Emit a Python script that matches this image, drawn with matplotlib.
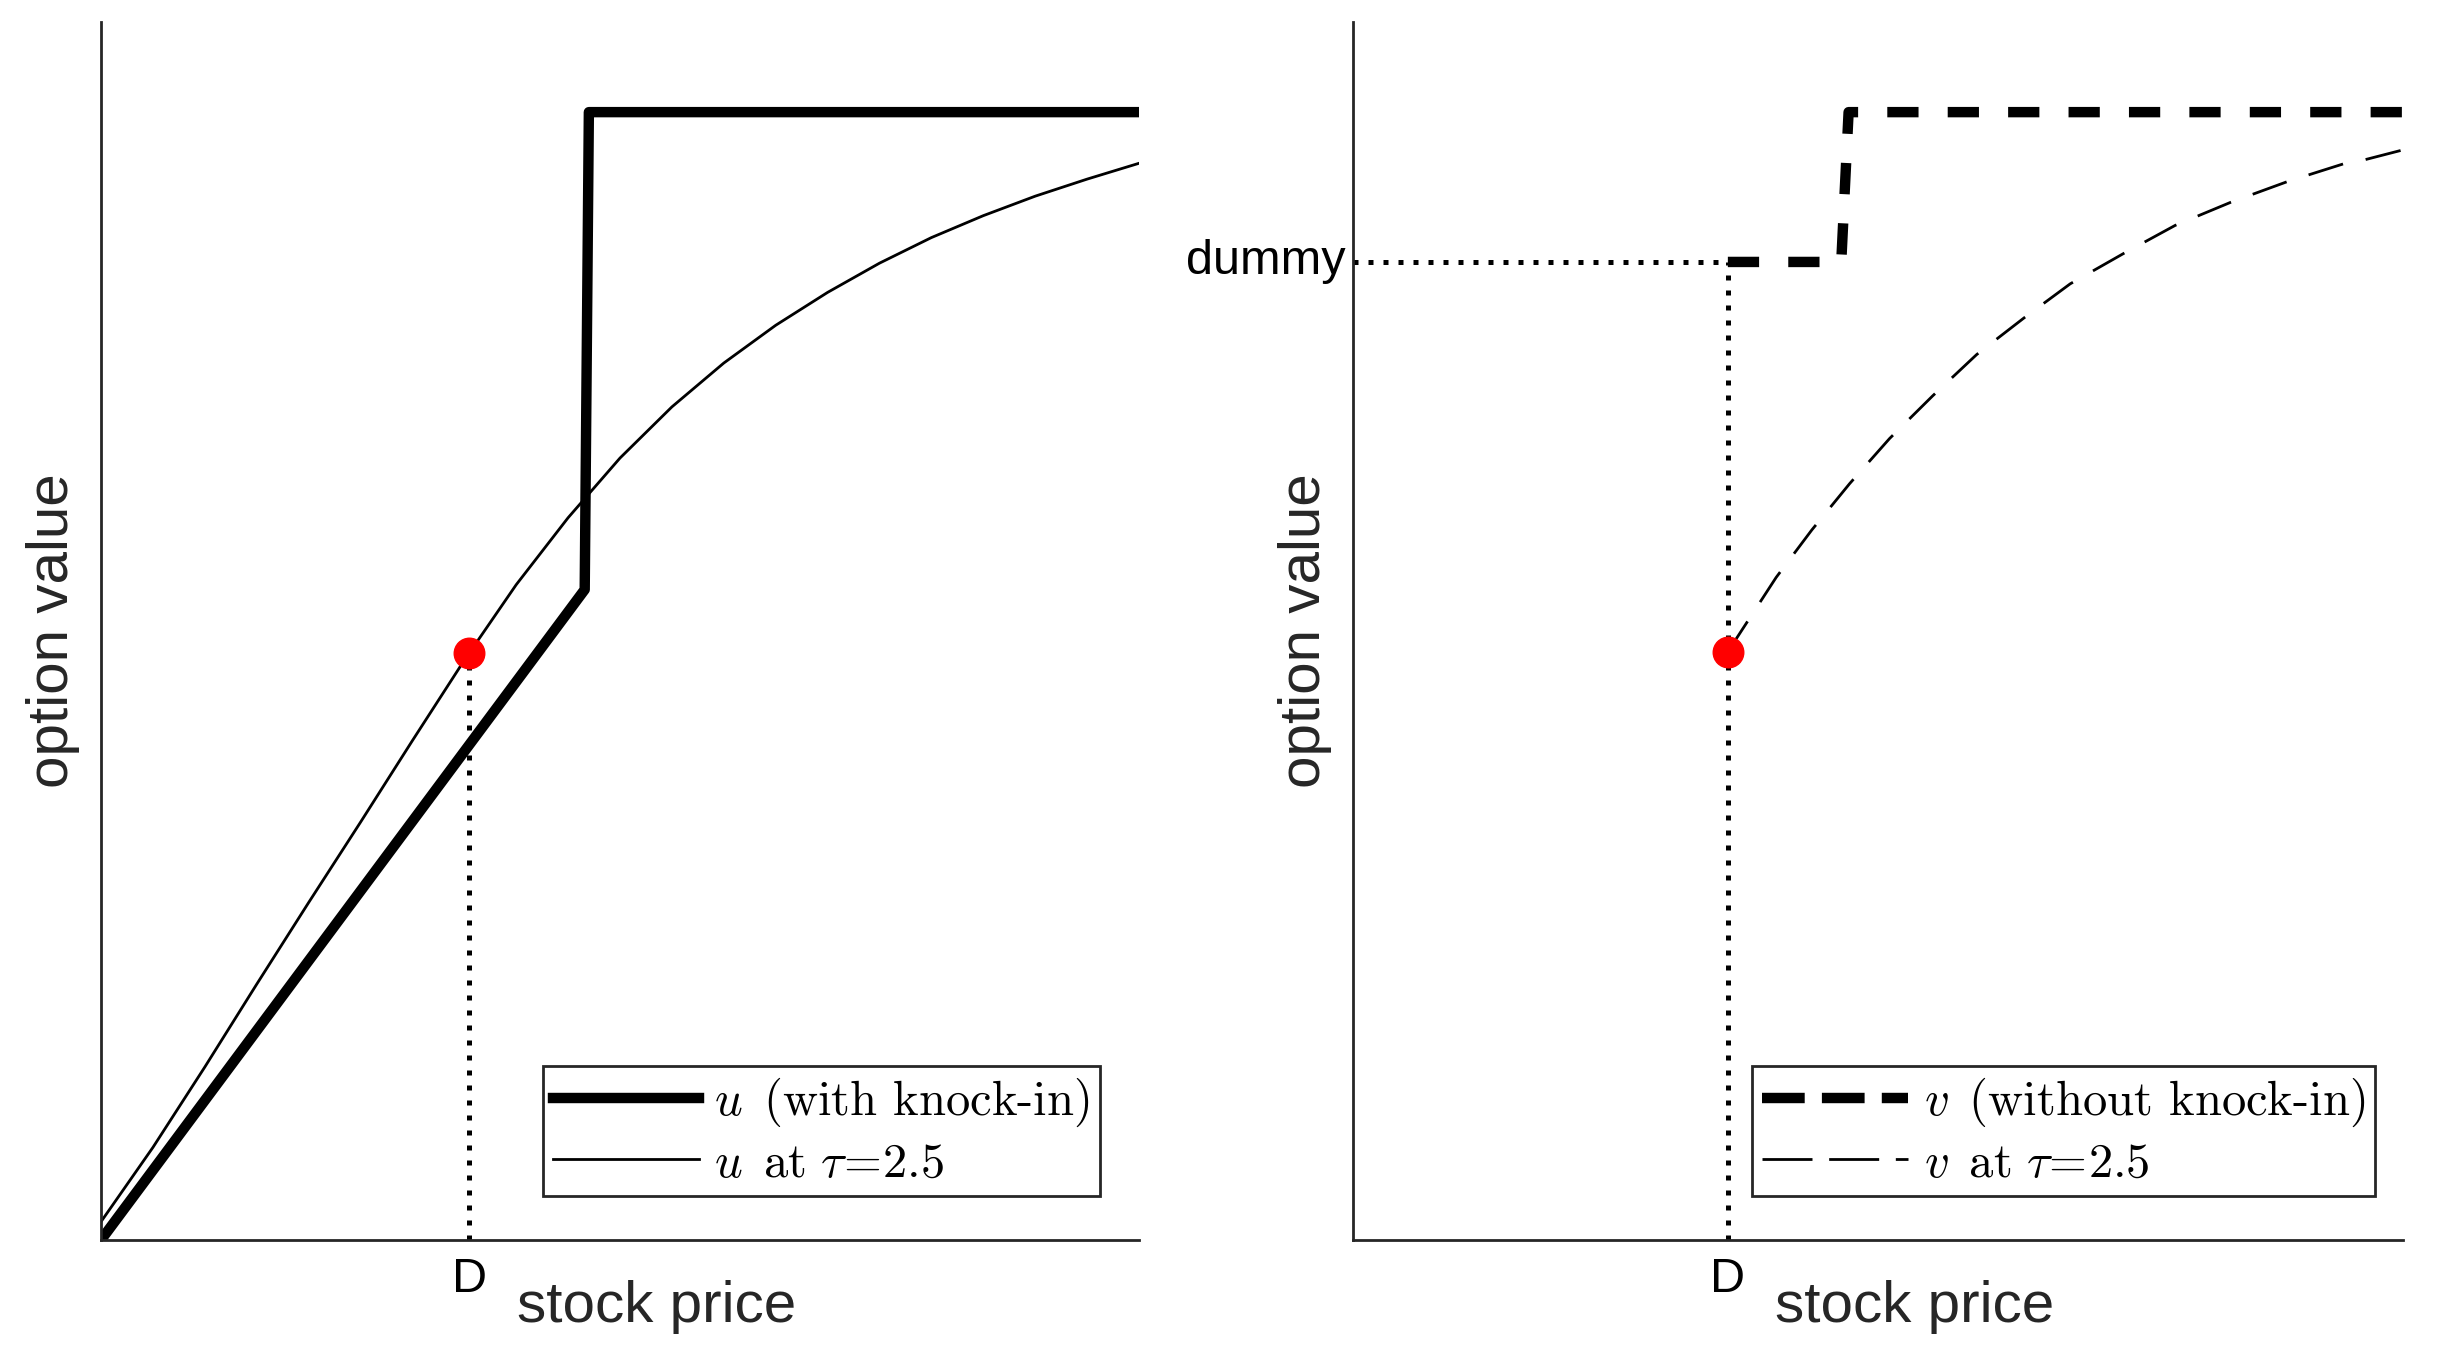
import matplotlib
matplotlib.use('Agg')
import matplotlib.pyplot as plt
from matplotlib.lines import Line2D
import numpy as np

plt.rcParams['font.family'] = ['Liberation Sans', 'DejaVu Sans']
plt.rcParams['mathtext.fontset'] = 'cm'

# ---- data (stock price and option value, 0..100) ----
D = 35.5
dummy_level = 80.3

# left panel: u with knock-in, and u at tau=2.5
stock_u = [0, 46.6, 47.0, 100]
u_knockin = [0, 53.4, 92.6, 92.6]
stock_u25 = [0, 5, 10, 15, 20, 25, 30, 35, 40, 45, 50, 55, 60, 65, 70, 75,
             80, 85, 90, 95, 100]
u_tau25 = [1.5, 7.6, 14.2, 21.0, 27.7, 34.3, 41.0, 47.6, 53.8, 59.3, 64.2,
           68.4, 72.0, 75.1, 77.8, 80.2, 82.3, 84.1, 85.7, 87.1, 88.4]

# right panel: v without knock-in, and v at tau=2.5
stock_v = [35.7, 46.5, 47.2, 100]
v_noknock = [80.3, 80.3, 92.6, 92.6]
stock_v25 = [35.7, 40.3, 43.7, 47.3, 51.1, 55.2, 59.4, 63.9, 68.3, 73.4, 78.3,
             83.6, 89.0, 94.5, 96.4, 100]
v_tau25 = [48.3, 54.4, 58.3, 62.1, 65.8, 69.3, 72.7, 75.7, 78.5, 81.0, 83.3,
           85.2, 86.9, 88.4, 88.7, 89.5]

axis_col = '#262626'
W, H = 2439, 1356
fig = plt.figure(figsize=(W / 100, H / 100), dpi=100)
ax1 = fig.add_axes([101 / W, 116 / H, 1038 / W, 1218 / H])
ax2 = fig.add_axes([1353 / W, 116 / H, 1050 / W, 1218 / H])

thick = 7.5
thin = 2.0
dotted = (0, (1, 2))

# left
dot_u = np.interp(D, stock_u25, u_tau25)
ax1.plot([D, D], [0, dot_u], color='black', lw=3.6, ls=dotted)
ax1.plot(stock_u, u_knockin, color='black', lw=thick)
ax1.plot(stock_u25, u_tau25, color='black', lw=thin)
ax1.plot([D], [dot_u], 'o', color='#ff0000', ms=22, zorder=5)

# right
Dv = stock_v[0]
ax2.plot([0, Dv], [dummy_level, dummy_level], color='black', lw=3.6, ls=dotted)
ax2.plot([Dv, Dv], [0, dummy_level], color='black', lw=3.6, ls=dotted)
ax2.plot(stock_v, v_noknock, color='black', lw=thick, ls=(0, (3.0, 2.8)))
ax2.plot(stock_v25, v_tau25, color='black', lw=thin, ls=(0, (13, 8.3)))
ax2.plot([Dv], [v_tau25[0]], 'o', color='#ff0000', ms=22, zorder=5)

for ax in (ax1, ax2):
    ax.set_xlim(0, 100)
    ax.set_ylim(0, 100)
    for s in ('top', 'right'):
        ax.spines[s].set_visible(False)
    for s in ('left', 'bottom'):
        ax.spines[s].set_color(axis_col)
        ax.spines[s].set_linewidth(2)
    ax.tick_params(length=0, colors='black')
    ax.set_xlabel('stock price', fontsize=42, color=axis_col)
    ax.set_ylabel('option value', fontsize=42, color=axis_col)
    ax.xaxis.set_label_coords(0.535, -0.033)
    ax.yaxis.set_label_coords(-0.020, 0.5)

ax1.set_xticks([D])
ax1.set_xticklabels(['D'])
ax1.set_yticks([])
ax2.set_xticks([Dv])
ax2.set_xticklabels(['D'])
ax2.set_yticks([dummy_level])
ax2.set_yticklabels(['dummy'])
for ax in (ax1, ax2):
    ax.tick_params(axis='x', labelsize=35, pad=12)
    ax.tick_params(axis='y', labelsize=35, pad=5)
for lab in ax2.get_yticklabels():
    lab.set_va('center')

leg_kw = dict(fontsize=35, frameon=True, fancybox=False, framealpha=1,
              edgecolor=axis_col, loc='lower right', handlelength=3.0,
              handletextpad=0.32, borderpad=0.2, labelspacing=0.26,
              borderaxespad=0)
h1 = [Line2D([], [], color='black', lw=thick),
      Line2D([], [], color='black', lw=thin)]
l1 = [r'$u\ \,\text{(with knock-in)}$', r'$u\ \,\text{at}\ \tau\!=\!2.5$']
leg1 = ax1.legend(h1, l1, bbox_to_anchor=(0.962, 0.036), **leg_kw)
leg1.get_frame().set_linewidth(2)

h2 = [Line2D([], [], color='black', lw=thick, ls=(0, (4.1, 1.65))),
      Line2D([], [], color='black', lw=thin, ls=(0, (18, 6)))]
l2 = [r'$v\ \,\text{(without knock-in)}$', r'$v\ \,\text{at}\ \tau\!=\!2.5$']
leg2 = ax2.legend(h2, l2, bbox_to_anchor=(0.973, 0.036), **leg_kw)
leg2.get_frame().set_linewidth(2)

fig.savefig('out.png', dpi=100)
